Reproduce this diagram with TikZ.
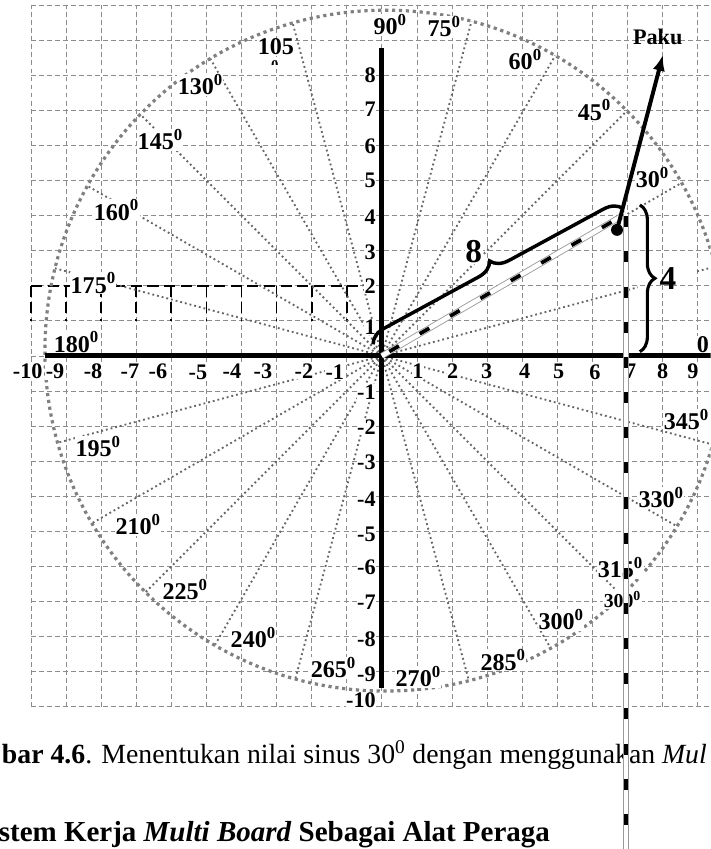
\documentclass[tikz,border=0pt]{standalone}
\usepackage{fontspec}
\setmainfont{Liberation Serif}
\usepackage{tikz}
\usepackage{tkz-euclide}
\usetikzlibrary{calc,positioning,arrows.meta,decorations.pathreplacing}

\newcommand\derajat[1]{#1\textsuperscript{0}}
\tikzset{
  garisgrid/.style={black!45, line width=0.6pt, dash pattern=on 4pt off 2.5pt},
  garispetak/.style={black, line width=1.4pt, dash pattern=on 9pt off 4.5pt},
  jari/.style={black!60, line width=1.5pt, dash pattern=on 1.5pt off 2.4pt},
  lingkar/.style={black!50, line width=2.6pt, dash pattern=on 2.6pt off 3pt},
  sumbu/.style={line width=4pt},
  sudut/.style={font=\fontsize{19.5}{22}\bfseries\selectfont, fill=white, inner sep=0.5pt, anchor=base west},
  angka/.style={font=\fontsize{18}{20}\bfseries\selectfont, fill=white, inner sep=0.5pt},
  tongkat/.style={black!40, line width=0.7pt, double=white, double distance=3.6pt},
  tali/.style={line width=3pt, dash pattern=on 9pt off 19.5pt},
  kurung/.style={decorate, line width=2.8pt}
}

\begin{document}
\begin{tikzpicture}
\useasboundingbox (-10.88,-14.05) rectangle (9.37,10.14);
\clip (-10.88,-14.05) rectangle (9.37,10.14);
\tkzDefPoint(0,0){O}
\tkzDefPoint(6.95,4.05){P}
\tkzDefPoint(6.95,-14.4){Q}
\tkzDefPoint(6.70,3.59){D}
\tkzDefPoint(8.01,8.58){K}
\tkzDefPoint(-0.25,0.33){B1}
\tkzDefPoint(6.87,4.20){B2}
\tkzDefPoint(7.35,4.30){C1}
\tkzDefPoint(7.35,0.12){C2}
% grid
\foreach \x in {-10,...,10}
 \draw[garisgrid] (\x,-10) -- (\x,10);
\foreach \y in {-10,...,10}
 \draw[garisgrid] (-10,\y) -- (10,\y);
\draw[garispetak] (-10,2) -- (-0.1,2);
\foreach \x in {-10,...,-1}
 \draw[garispetak] (\x,2) -- (\x,1);
% jari-jari dan lingkaran
\foreach \a in {30,45,60,75,105,120,135,150,165,195,210,225,240,255,285,300,315,330,345}
 \draw[jari] (O) -- (\a:{9.7+0.1*cos(\a)+0.15*sin(\a)});
\draw[jari] (O) -- (15:7.55);
\draw[jari] (15:9.3) -- (15:9.8);
\draw[lingkar] (0.1,0.15) circle (9.7);
% sumbu
\draw[sumbu] (-9.6,0) -- (9.5,0);
\draw[sumbu] (0,-9.46) -- (0,8.77);
% label sumbu
\foreach \t/\x/\y in {-10/-10.09/-0.65,-9/-9.31/-0.65,-8/-8.23/-0.65,-7/-7.18/-0.65,-6/-6.38/-0.65,-5/-5.24/-0.68,-4/-4.27/-0.65,-3/-3.39/-0.65,-2/-2.22/-0.65,-1/-1.34/-0.68,1/1.03/-0.65,2/2.02/-0.65,3/2.99/-0.65,4/4.07/-0.65,5/5.04/-0.65,6/6.07/-0.68,7/7.09/-0.65,8/8.0/-0.65,9/8.86/-0.65}
 \node[angka, anchor=base] (x\t) at (\x,\y) {\t};
\foreach \t/\y in {8/7.78,7/6.81,6/5.78,5/4.79,4/3.73,3/2.74,2/1.79,1/0.62,-1/-1.25,-2/-2.25,-3/-3.25,-4/-4.3,-5/-5.3,-6/-6.24,-7/-7.24,-8/-8.29,-9/-9.29,-10/-10.03}
 \node[angka, anchor=base east] (y\t) at (-0.15,\y) {\t};
\node[sudut] (nol) at (8.95,0.10) {0};
% label sudut
\foreach \t/\x/\y in {90/-0.26/9.15,75/1.28/9.09,60/3.59/8.15,45/5.56/6.72,30/7.21/4.79,130/-5.84/7.44,145/-6.98/5.87,160/-8.23/3.87,175/-8.89/1.79,180/-9.37/0.11,195/-8.75/-2.88,210/-7.61/-5.10,225/-6.27/-6.95,240/-4.33/-8.32,265/-2.05/-9.17,270/0.37/-9.43,285/2.79/-8.95,300/4.44/-7.81,315/6.13/-6.32,330/7.29/-4.33,345/8.01/-2.11}
 \node[sudut] (s\t) at (\x,\y) {\derajat{\t}};
\node[sudut] (s105) at (-3.56,8.58) {105};
\begin{scope}
 \clip (-3.3,8.30) rectangle (-2.8,8.45);
 \node[font=\fontsize{12}{14}\bfseries\selectfont, inner sep=0pt, anchor=north] (s105b) at (-3.05,8.42) {0};
\end{scope}
\node[sudut, font=\fontsize{16}{18}\bfseries\selectfont] (s300b) at (6.30,-7.18) {\derajat{300}};
% keterangan
\node[anchor=base west, inner sep=0pt, font=\fontsize{22.5}{26}\selectfont] (ket1) at (-10.83,-11.6)
 {\textbf{bar 4.6}. Menentukan nilai sinus 30\textsuperscript{0} dengan menggunakan \textit{Mul}};
\node[anchor=base west, inner sep=0pt, font=\fontsize{23.5}{27}\bfseries\selectfont] (ket2) at (-10.92,-13.85)
 {stem Kerja \textit{Multi Board} Sebagai Alat Peraga};
% tongkat
\draw[tongkat] (O) -- (P);
\draw[tongkat] (P) -- (Q);
\draw[tali, dash phase=-7pt] (O) -- (P);
\draw[tali, dash phase=-2pt] (P) -- (Q);
% kurung kurawal
\draw[kurung, decoration={brace, amplitude=0.5cm}] (B1) -- (B2);
\draw[kurung, line width=2.5pt, decoration={brace, amplitude=0.43cm}] (C1) -- (C2);
\node[font=\fontsize{27}{30}\bfseries\selectfont, fill=white, inner sep=0.5pt] (lab8) at (2.62,2.96) {8};
\node[font=\fontsize{27}{30}\bfseries\selectfont, inner sep=0.5pt] (lab4) at (8.15,2.20) {4};
% paku
\fill (D) circle (0.17);
\draw[line width=3.2pt, -{Latex[length=13pt,width=10pt]}] (D) -- (K);
\node[anchor=base west, inner sep=0pt, font=\fontsize{18}{20}\bfseries\selectfont] (paku) at (7.15,8.86) {Paku};
\end{tikzpicture}
\end{document}
